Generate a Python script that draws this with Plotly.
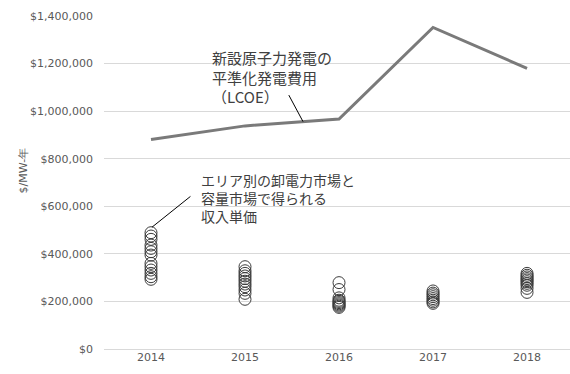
import plotly.graph_objects as go

# Fiscal years on the category axis
years = ["2014", "2015", "2016", "2017", "2018"]

# Levelized cost of electricity for new nuclear build ($/MW-year)
lcoe = [881000, 938000, 967000, 1352000, 1180000]

# Per-area revenue from wholesale and capacity markets ($/MW-year)
rev_2014 = [489000, 475000, 461000, 437000, 423000, 409000, 395000,
            360000, 346000, 332000, 318000, 304000, 293000]
rev_2015 = [346000, 329000, 318000, 307000, 296000, 285000, 273000,
            262000, 248000, 234000, 209000]
rev_2016 = [279000, 250000, 215000, 205000, 200000, 195000, 190000,
            185000, 180000, 175000]
rev_2017 = [244000, 235000, 228000, 220000, 212000, 205000, 198000, 192000]
rev_2018 = [318000, 310000, 303000, 296000, 290000, 283000, 276000,
            268000, 255000, 238000]

y_ticks = [0, 200000, 400000, 600000, 800000, 1000000, 1200000, 1400000]

revenue = [rev_2014, rev_2015, rev_2016, rev_2017, rev_2018]
sx, sy = [], []
for yr, vals in zip(years, revenue):
    sx += [yr] * len(vals)
    sy += vals

fig = go.Figure()
fig.add_trace(go.Scatter(
    x=sx, y=sy, mode="markers",
    marker=dict(symbol="circle-open", size=12, color="#3c3c3c",
                line=dict(width=1, color="#3c3c3c")),
    showlegend=False, hoverinfo="skip",
))
fig.add_trace(go.Scatter(
    x=years, y=lcoe, mode="lines",
    line=dict(color="#7a7a7a", width=3),
    showlegend=False,
))

label_font = dict(family="Noto Sans CJK JP", color="#404040")

# Callout for the LCOE line
fig.add_annotation(
    x=0.628, y=1278000, xref="x", yref="y",
    text="新設原子力発電の<br>平準化発電費用<br>（LCOE）",
    showarrow=False, xanchor="left", yanchor="top", align="left",
    font=dict(size=15, **label_font),
)
fig.add_annotation(
    x=1.617, y=956000, xref="x", yref="y", text="",
    showarrow=True, arrowhead=0, arrowwidth=1, arrowcolor="#000000",
    ax=-15, ay=-28,
)

# Callout for the market revenue scatter
fig.add_annotation(
    x=0.511, y=761000, xref="x", yref="y",
    text="エリア別の卸電力市場と<br>容量市場で得られる<br>収入単価",
    showarrow=False, xanchor="left", yanchor="top", align="left",
    font=dict(size=14, **label_font),
)
fig.add_annotation(
    x=0.01, y=512000, xref="x", yref="y", text="",
    showarrow=True, arrowhead=0, arrowwidth=1, arrowcolor="#000000",
    ax=40, ay=-32,
)

# Vertical y-axis title, placed in paper space from pixel offsets
plot_w = 570 - 104
plot_h = 374 - 16 - 25
fig.add_annotation(
    x=(15 - 104) / plot_w, y=(374 - 25 - 171) / plot_h,
    xref="paper", yref="paper", text="$/MW-年",
    showarrow=False, textangle=-90,
    font=dict(family="DejaVu Sans", size=11, color="#595959"),
)

fig.update_layout(
    width=570, height=374,
    margin=dict(l=104, r=0, t=16, b=25),
    paper_bgcolor="white", plot_bgcolor="white",
    font=dict(family="DejaVu Sans", size=11, color="#595959"),
    xaxis=dict(
        type="category", range=[-0.5, 4.457],
        showgrid=False, zeroline=False, showline=False, ticks="",
        tickfont=dict(size=11, color="#595959"),
    ),
    yaxis=dict(
        range=[0, 1400000], tickvals=y_ticks,
        tickformat="$,d", showgrid=True, gridcolor="#d9d9d9", gridwidth=1,
        zeroline=True, zerolinecolor="#d9d9d9", zerolinewidth=1,
        showline=False, ticks="", ticklabelstandoff=10,
        tickfont=dict(size=11, color="#595959"),
    ),
)

fig.write_html("out.html")
